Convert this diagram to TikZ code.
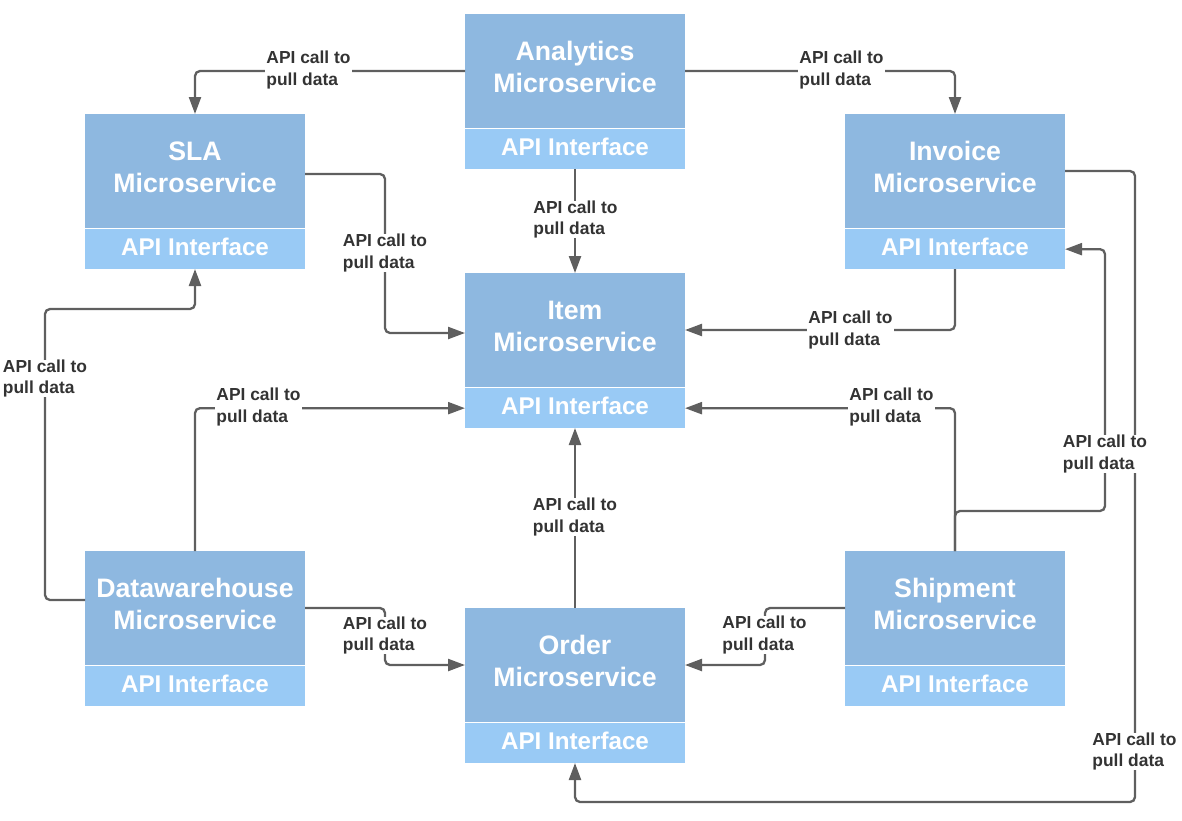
\documentclass[tikz,border=0pt]{standalone}
\usepackage{fontspec}
\setmainfont{Liberation Sans}
\usetikzlibrary{arrows.meta}
\definecolor{mainblue}{RGB}{142,184,224}
\definecolor{apiblue}{RGB}{153,202,245}
\definecolor{linegray}{RGB}{95,95,95}
\definecolor{labelgray}{RGB}{51,51,51}
\newcommand\tkTitleFont{\fontsize{26.7pt}{32pt}\selectfont\bfseries}
\newcommand\tkApiFont{\fontsize{24.2pt}{28pt}\selectfont\bfseries}
\newcommand\tkLblFont{\fontsize{17.4pt}{21.3pt}\selectfont\bfseries}
\begin{document}
\begin{tikzpicture}[x=1pt,y=-1pt,
  mainbox/.style={fill=mainblue, draw=none, minimum width=220pt, minimum height=114pt, inner sep=0pt, outer sep=0pt, anchor=north west},
  apibox/.style={fill=apiblue, draw=none, minimum width=220pt, minimum height=39.7pt, inner sep=0pt, outer sep=0pt, anchor=north west, text=white, font=\tkApiFont, text height=17.6pt, text depth=4.7pt},
  titletext/.style={text=white, font=\tkTitleFont, align=center, inner sep=0pt},
  lbl/.style={fill=white, text=labelgray, font=\tkLblFont, align=left, inner xsep=1pt, inner ysep=0pt},
  conn/.style={draw=linegray, line width=2.3pt, rounded corners=5pt, -{Triangle[length=17pt,width=12pt]}}
]
\useasboundingbox (0,0) rectangle (1182,820);

% boxes
\node[mainbox] (ana) at (465,14) {};
\node[apibox] (ana-api) at (465,129.3) {API Interface};
\node[titletext] (ana-t) at (575,67.3) {Analytics\\Microservice};

\node[mainbox] (sla) at (85,114) {};
\node[apibox] (sla-api) at (85,229.3) {API Interface};
\node[titletext] (sla-t) at (195,167.3) {SLA\\Microservice};

\node[mainbox] (inv) at (845,114) {};
\node[apibox] (inv-api) at (845,229.3) {API Interface};
\node[titletext] (inv-t) at (955,167.3) {Invoice\\Microservice};

\node[mainbox] (item) at (465,273) {};
\node[apibox] (item-api) at (465,388.3) {API Interface};
\node[titletext] (item-t) at (575,326.3) {Item\\Microservice};

\node[mainbox] (dw) at (85,551) {};
\node[apibox] (dw-api) at (85,666.3) {API Interface};
\node[titletext] (dw-t) at (195,604.3) {Datawarehouse\\Microservice};

\node[mainbox] (ord) at (465,608) {};
\node[apibox] (ord-api) at (465,723.3) {API Interface};
\node[titletext] (ord-t) at (575,661.3) {Order\\Microservice};

\node[mainbox] (ship) at (845,551) {};
\node[apibox] (ship-api) at (845,666.3) {API Interface};
\node[titletext] (ship-t) at (955,604.3) {Shipment\\Microservice};

% connectors
\draw[conn] (ana.west) -| (sla.north);
\draw[conn] (ana.east) -| (inv.north);
\draw[conn] (ana-api.south) -- (item.north);
\draw[conn] ([yshift=-3pt]sla.east) -| (385,333) -- ([yshift=-3pt]item.west);
\draw[conn] (inv-api.south) |- (item.east);
\draw[conn] (ship.north) |- (item-api.east);
\draw[conn] (ship.north) |- (1105,511) |- (inv-api.east);
\draw[conn] (inv.east) -| (1135,802) -| (ord-api.south);
\draw[conn] ([yshift=8pt]dw.west) -| (45,309) -| (sla-api.south);
\draw[conn] (dw.north) |- (item-api.west);
\draw[conn] (dw.east) -| (385,665) -- (ord.west);
\draw[conn] (ord.north) -- (item-api.south);
\draw[conn] (ship.west) -| (765,665) -- (ord.east);

% labels
\node[lbl] (l1) at (308.5,70) {API call to\\pull data};
\node[lbl] (l2) at (841.5,70) {API call to\\pull data};
\node[lbl] (l3) at (575.5,219.5) {API call to\\pull data};
\node[lbl] (l4) at (385,253) {API call to\\pull data};
\node[lbl] (l5) at (850.5,330) {API call to\\pull data};
\node[lbl] (l6) at (891.5,407) {API call to\\pull data};
\node[lbl] (l7) at (1105,454) {API call to\\pull data};
\node[lbl] (l8) at (1134.5,751.5) {API call to\\pull data};
\node[lbl] (l9) at (45,378.5) {API call to\\pull data};
\node[lbl] (l10) at (258.5,407) {API call to\\pull data};
\node[lbl] (l11) at (385,635.5) {API call to\\pull data};
\node[lbl] (l12) at (575,517) {API call to\\pull data};
\node[lbl] (l13) at (764.5,635) {API call to\\pull data};
\end{tikzpicture}
\end{document}
